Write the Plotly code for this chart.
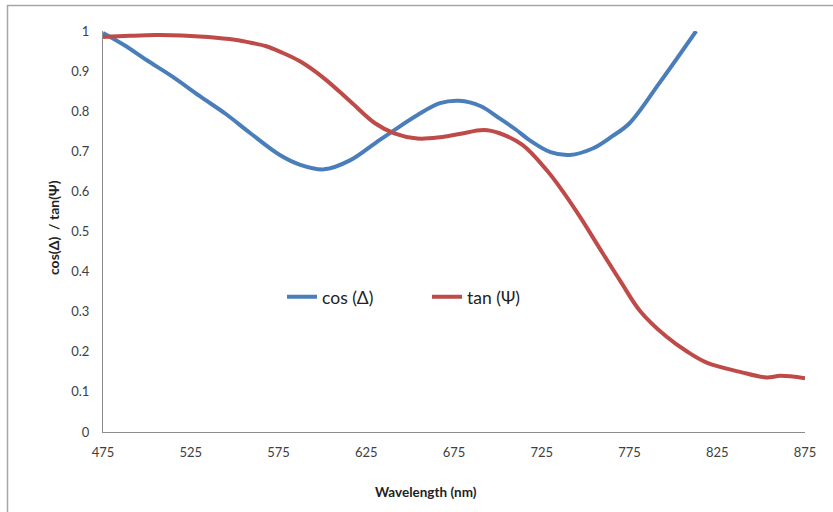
import plotly.graph_objects as go

# cos(Delta) spectrum
cos_wl = [475, 487, 500, 515, 530, 545, 559, 576, 587, 601, 616, 630, 641, 654,
          667, 678, 690, 701, 710, 718, 730, 741, 754, 765, 775, 792, 813]
cos_val = [0.995, 0.965, 0.927, 0.885, 0.838, 0.793, 0.745, 0.690, 0.667, 0.655,
           0.678, 0.720, 0.753, 0.790, 0.820, 0.826, 0.813, 0.782, 0.755, 0.728,
           0.698, 0.691, 0.707, 0.737, 0.770, 0.870, 1.0]

# tan(Psi) spectrum
tan_wl = [475, 490, 505, 520, 535, 550, 560, 568, 576, 587, 601, 616, 630, 641,
          654, 667, 678, 692, 701, 714, 728, 737, 747, 758, 770, 781, 796, 808,
          819, 838, 853, 861, 875]
tan_val = [0.985, 0.988, 0.990, 0.989, 0.985, 0.978, 0.970, 0.962, 0.948, 0.925,
           0.882, 0.824, 0.770, 0.745, 0.732, 0.735, 0.743, 0.753, 0.745, 0.716,
           0.652, 0.600, 0.535, 0.458, 0.375, 0.302, 0.238, 0.200, 0.173, 0.150,
           0.136, 0.140, 0.134]

x_ticks = [475, 525, 575, 625, 675, 725, 775, 825, 875]
y_ticks = [0, 0.1, 0.2, 0.3, 0.4, 0.5, 0.6, 0.7, 0.8, 0.9, 1]

FONT = "Lato, 'Open Sans', sans-serif"
BLUE = "#4a7ebb"
RED = "#be4b48"

fig = go.Figure()
fig.add_trace(go.Scatter(x=cos_wl, y=cos_val, mode="lines", name="cos (\u0394)",
                         line=dict(color=BLUE, width=4, shape="spline", smoothing=1.0)))
fig.add_trace(go.Scatter(x=tan_wl, y=tan_val, mode="lines", name="tan (\u03a8)",
                         line=dict(color=RED, width=4, shape="spline", smoothing=1.0)))

fig.update_layout(
    width=833, height=512,
    margin=dict(l=103, r=28, t=31, b=80),
    paper_bgcolor="white", plot_bgcolor="white",
    font=dict(family=FONT, size=13, color="#404040"),
    showlegend=True,
    legend=dict(orientation="h", x=0.255, y=0.337, xanchor="left", yanchor="middle",
                font=dict(size=17.5, color="#222222"), bgcolor="rgba(0,0,0,0)",
                itemwidth=30, entrywidth=100),
    xaxis=dict(range=[475, 875], tickvals=x_ticks, showgrid=False, zeroline=False,
               showline=True, linecolor="#8c8c8c", linewidth=1.2, ticks="",
               ticklabelstandoff=8, tickfont=dict(size=13, color="#404040")),
    yaxis=dict(range=[0, 1], tickvals=y_ticks, showgrid=False, zeroline=False,
               showline=True, linecolor="#8c8c8c", linewidth=1.2, ticks="",
               ticklabelstandoff=10, tickfont=dict(size=13, color="#404040")),
    annotations=[
        dict(text="<b>Wavelength (nm)</b>", xref="paper", yref="paper",
             x=(426 - 103) / 702, y=-(492 - 432) / 401, showarrow=False,
             xanchor="center", yanchor="middle", font=dict(size=13.5, color="#222222")),
        dict(text="<b>cos(\u0394)  / tan(\u03a8)</b>", xref="paper", yref="paper",
             x=-(103 - 53) / 702, y=(432 - 228) / 401, showarrow=False, textangle=-90,
             xanchor="center", yanchor="middle", font=dict(size=14, color="#222222")),
    ],
    shapes=[
        dict(type="rect", xref="paper", yref="paper",
             x0=-(103 - 7.5) / 702, x1=1.2, y0=-0.4, y1=(432 - 5.5) / 401,
             line=dict(color="#a6a6a6", width=1.5), fillcolor="rgba(0,0,0,0)", layer="below"),
    ],
)

fig.write_html("out.html")
